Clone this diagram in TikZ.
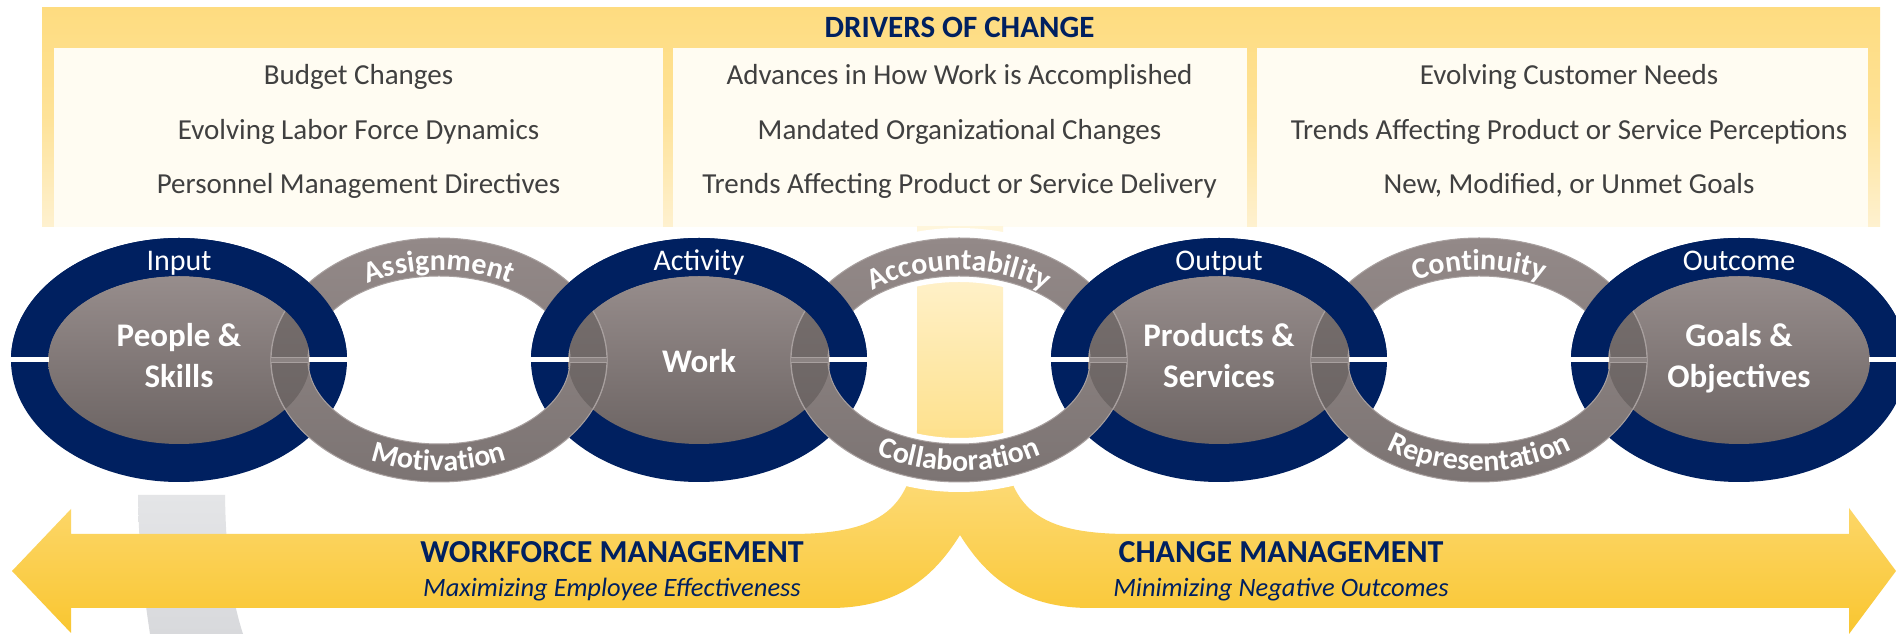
\documentclass[tikz,border=0pt]{standalone}
\usepackage{fontspec}
\setmainfont{Carlito}
\usetikzlibrary{decorations.text,calc}
\definecolor{navy}{RGB}{0,32,96}
\definecolor{txtgrey}{RGB}{64,64,64}
\definecolor{bannerT}{RGB}{254,220,128}
\definecolor{bannerB}{RGB}{254,241,208}
\definecolor{panelfill}{RGB}{255,252,242}
\definecolor{innerT}{RGB}{151,141,140}
\definecolor{innerB}{RGB}{108,100,99}
\definecolor{linkT}{RGB}{147,137,136}
\definecolor{linkB}{RGB}{124,116,115}
\definecolor{ovT}{RGB}{120,112,111}
\definecolor{ovB}{RGB}{104,97,96}
\definecolor{linkedge}{RGB}{168,160,159}
\definecolor{gapgrey}{RGB}{140,132,131}
\definecolor{arrowT}{RGB}{254,224,138}
\definecolor{arrowB}{RGB}{249,198,48}
\definecolor{stemT}{RGB}{255,246,220}
\definecolor{shadowgrey}{RGB}{216,217,220}
\definecolor{shadowtop}{RGB}{228,229,231}
\newcommand\myhdrfont{\fontsize{31}{37}\selectfont\bfseries}
\newcommand\mypanelfont{\fontsize{29}{35}\selectfont}
\newcommand\myringfont{\fontsize{30}{36}\selectfont}
\newcommand\mycenterfont{\fontsize{33}{40}\selectfont\bfseries}
\newcommand\mylinkfont{\fontsize{30}{36}\selectfont\bfseries}
\newcommand\mymgmtfont{\fontsize{32}{38}\selectfont\bfseries}
\newcommand\mysubfont{\fontsize{26.5}{32}\selectfont\itshape}
\tikzset{
  paneltext/.style={font=\mypanelfont, text=txtgrey, inner sep=0pt, anchor=base},
  hdrtext/.style={font=\myhdrfont, text=navy, inner sep=0pt, anchor=base},
  ringtext/.style={font=\myringfont, text=white, inner sep=0pt, anchor=base},
  centertext/.style={font=\mycenterfont, text=white, inner sep=0pt, anchor=base},
  mgmttext/.style={font=\mymgmtfont, text=navy, inner sep=0pt, anchor=base},
  subtext/.style={font=\mysubfont, text=navy, inner sep=0pt, anchor=base},
  outerell/.style={x radius=168, y radius=122},
  innerell/.style={x radius=131, y radius=84},
}
\begin{document}
\begin{tikzpicture}[x=1pt,y=1pt]
\useasboundingbox (0,0) rectangle (1896,634);
\clip (0,0) rectangle (1896,634);
\fill[white] (0,0) rectangle (1896,634);

% ---------- banner ----------
\shade[top color=bannerT, bottom color=bannerB, middle color=bannerT!70!bannerB] (42,407) rectangle (1880,626);
\fill[panelfill] (54,407) rectangle (663,586);
\fill[panelfill] (673,407) rectangle (1247,586);
\fill[panelfill] (1257,407) rectangle (1868,586);
\node[hdrtext] (hdr) at (959.5,596) {DRIVERS OF CHANGE};

\node[paneltext] (a1) at (358.5,549) {Budget Changes};
\node[paneltext] (a2) at (358.5,494) {Evolving Labor Force Dynamics};
\node[paneltext] (a3) at (358.5,440) {Personnel Management Directives};
\node[paneltext] (b1) at (959.5,549) {Advances in How Work is Accomplished};
\node[paneltext] (b2) at (959.5,494) {Mandated Organizational Changes};
\node[paneltext] (b3) at (959.5,440) {Trends Affecting Product or Service Delivery};
\node[paneltext] (c1) at (1569,549) {Evolving Customer Needs};
\node[paneltext] (c2) at (1569,494) {Trends Affecting Product or Service Perceptions};
\node[paneltext] (c3) at (1569,440) {New, Modified, or Unmet Goals};

% ---------- coordinates of the chain ----------
\coordinate (E1) at (179,274);
\coordinate (L1) at (439,274);
\coordinate (E2) at (699,274);
\coordinate (L2) at (959,274);
\coordinate (E3) at (1219,274);
\coordinate (L3) at (1479,274);
\coordinate (E4) at (1739,274);

% ---------- background grey bar ----------
\shade[top color=shadowtop, bottom color=shadowgrey]
  (138,139) -- (225,139) .. controls (226,74) and (232,34) .. (243,0)
  -- (150,0) .. controls (145,34) and (139,74) .. (138,139) -- cycle;

% ---------- yellow stem and arrows ----------
\shade[top color=stemT, bottom color=arrowT] (917,189) rectangle (1003,407);
\shade[top color=arrowT, bottom color=arrowB]
  (12,63) -- (71,125) -- (71,100) -- (790,100)
  .. controls (880,100) and (915,124) .. (917,204)
  -- (1003,204)
  .. controls (1005,124) and (1040,100) .. (1130,100)
  -- (1849,100) -- (1849,126) -- (1896,63) -- (1849,0) -- (1849,26)
  -- (1090,26) .. controls (1020,26) and (985,59) .. (960,99)
  .. controls (935,59) and (900,26) .. (830,26)
  -- (71,26) -- (71,1) -- cycle;

% white halo round the middle link
\fill[white, even odd rule] (L2) ellipse[x radius=178, y radius=132] (L2) ellipse[x radius=125, y radius=78];

% ---------- navy rings ----------
\foreach \e in {E1,E2,E3,E4}{
  \fill[navy] (\e) ellipse[outerell];
  \shade[top color=innerT, bottom color=innerB] (\e) ellipse[innerell];
}

% ---------- grey links ----------
\foreach \l in {L1,L2,L3}{
  \shade[top color=linkT, bottom color=linkB, even odd rule] (\l) ellipse[outerell] (\l) ellipse[innerell];
  \draw[linkedge, line width=1] (\l) ellipse[outerell] (\l) ellipse[innerell];
}
% link parts lying over the grey inner ellipses
\foreach \e/\l in {E1/L1,E2/L1,E2/L2,E3/L2,E3/L3,E4/L3}{
  \begin{scope}
    \clip (\e) ellipse[innerell];
    \shade[top color=ovT, bottom color=ovB, even odd rule] (\l) ellipse[outerell] (\l) ellipse[innerell];
    \draw[linkedge, line width=1.2] (\l) ellipse[outerell] (\l) ellipse[innerell];
  \end{scope}
}
% upper halves of navy rings lie in front of the links
\begin{scope}
  \clip (0,274) rectangle (1896,634);
  \foreach \e in {E1,E2,E3,E4}{
    \fill[navy, even odd rule] (\e) ellipse[outerell] (\e) ellipse[innerell];
  }
\end{scope}

% ---------- split lines ----------
\foreach \e in {E1,E2,E3,E4}{
  \fill[white] ($(\e)+(-171,-2.5)$) rectangle ($(\e)+(-130,2.5)$);
  \fill[white] ($(\e)+(130,-2.5)$) rectangle ($(\e)+(171,2.5)$);
}
\foreach \l in {L1,L2,L3}{
  \fill[gapgrey] ($(\l)+(-168,-2.5)$) rectangle ($(\l)+(-131,2.5)$);
  \fill[gapgrey] ($(\l)+(131,-2.5)$) rectangle ($(\l)+(168,2.5)$);
  \draw[linkedge, line width=1] ($(\l)+(-168,-2.5)$) -- ($(\l)+(-131,-2.5)$) ($(\l)+(-168,2.5)$) -- ($(\l)+(-131,2.5)$);
  \draw[linkedge, line width=1] ($(\l)+(131,-2.5)$) -- ($(\l)+(168,-2.5)$) ($(\l)+(131,2.5)$) -- ($(\l)+(168,2.5)$);
}

% ---------- ring labels ----------
\node[ringtext] (in) at (179,363) {Input};
\node[ringtext] (act) at (699,363) {Activity};
\node[ringtext] (outp) at (1219,363) {Output};
\node[ringtext] (outc) at (1739,363) {Outcome};

\node[centertext] (p1) at (179,287) {People \&};
\node[centertext] (p2) at (179,246) {Skills};
\node[centertext] (w1) at (699,261) {Work};
\node[centertext] (s1) at (1219,287) {Products \&};
\node[centertext] (s2) at (1219,246) {Services};
\node[centertext] (g1) at (1739,287) {Goals \&};
\node[centertext] (g2) at (1739,246) {Objectives};

% ---------- link labels ----------
\path[decorate, decoration={text along path, text={|\mylinkfont|Assignment}, text align=center, text color=white}]
  ($(L1)+(165:136 and 90)$) arc[start angle=165, end angle=15, x radius=136, y radius=90];
\path[decorate, decoration={text along path, text={|\mylinkfont|Motivation}, text align=center, text color=white}]
  ($(L1)+(195:156 and 111)$) arc[start angle=195, end angle=345, x radius=156, y radius=111];
\path[decorate, decoration={text along path, text={|\mylinkfont|Accountability}, text align=center, text color=white}]
  ($(L2)+(165:136 and 90)$) arc[start angle=165, end angle=15, x radius=136, y radius=90];
\path[decorate, decoration={text along path, text={|\mylinkfont|Collaboration}, text align=center, text color=white}]
  ($(L2)+(195:156 and 111)$) arc[start angle=195, end angle=345, x radius=156, y radius=111];
\path[decorate, decoration={text along path, text={|\mylinkfont|Continuity}, text align=center, text color=white}]
  ($(L3)+(165:136 and 90)$) arc[start angle=165, end angle=15, x radius=136, y radius=90];
\path[decorate, decoration={text along path, text={|\mylinkfont|Representation}, text align=center, text color=white}]
  ($(L3)+(195:156 and 111)$) arc[start angle=195, end angle=345, x radius=156, y radius=111];

% ---------- arrow labels ----------
\node[mgmttext] (wm) at (612,71) {WORKFORCE MANAGEMENT};
\node[subtext] (wms) at (612,37) {Maximizing Employee Effectiveness};
\node[mgmttext] (cm) at (1281,71) {CHANGE MANAGEMENT};
\node[subtext] (cms) at (1281,37) {Minimizing Negative Outcomes};
\end{tikzpicture}
\end{document}
